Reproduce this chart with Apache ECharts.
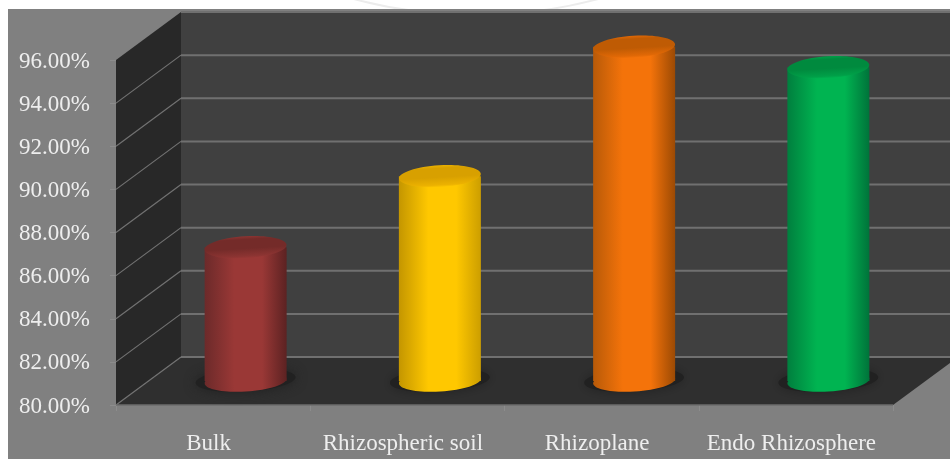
<!DOCTYPE html>
<html>
<head>
<meta charset="utf-8">
<style>
  html, body { margin: 0; padding: 0; background: #fff; overflow: hidden; }
  #ring { position: absolute; left: 1px; top: -934px; width: 946px; height: 946px; border: 2px solid #ececec; border-radius: 50%; }
  #panel { position: absolute; left: 8px; top: 9px; right: 0; bottom: 0; background: #808080; }
  #chart { position: absolute; left: 0; top: 0; width: 950px; height: 459px; }
</style>
<script src="https://cdn.jsdelivr.net/npm/echarts@6/dist/echarts.min.js"></script>
</head>
<body>
<div id="ring"></div>
<div id="panel"></div>
<div id="chart"></div>
<script>
// Share of reads per root compartment, in percent.
const categories = ['Bulk', 'Rhizospheric soil', 'Rhizoplane', 'Endo Rhizosphere'];
const values = [86.2, 89.5, 95.5, 94.55];
const yTicks = [80, 82, 84, 86, 88, 90, 92, 94, 96];

// Cylinder shades: body centre, body edge left, body edge right, top rim, top inner.
const shades = [
  ['#9a3836', '#6c2a2a', '#5c2222', '#8c3432', '#742b29'],
  ['#ffc800', '#c49600', '#cc9e00', '#ecb200', '#d8a000'],
  ['#f4730a', '#b85a08', '#9c4a04', '#e06806', '#bf5b04'],
  ['#00b451', '#007f3e', '#00733a', '#00a048', '#008a3e']
];

// Oblique projection of the chart box, in pixels.
const DEPTH_X = 65;
const DEPTH_Y = -48;
const RADIUS_X = 41;
const RADIUS_Y = 10.5;
const TILT = 0.06;

const chart = echarts.init(document.getElementById('chart'), null, { renderer: 'canvas' });

function polygon(points, fill) {
  return { type: 'polygon', shape: { points }, style: { fill } };
}
function segment(x1, y1, x2, y2, stroke, lineWidth) {
  return { type: 'line', shape: { x1, y1, x2, y2 }, style: { stroke, lineWidth } };
}

// Left wall, back wall, floor and the gridlines folded across the two walls.
function renderBox(params, api) {
  const box = params.coordSys;
  const left = box.x, right = box.x + box.width;
  const yAt = v => api.coord([0, v])[1];
  const floorY = yAt(yTicks[0]);
  const ceilY = yAt(yTicks[yTicks.length - 1]);
  const backL = left + DEPTH_X, backR = right + DEPTH_X;
  const children = [
    polygon([[backL, ceilY + DEPTH_Y], [backR, ceilY + DEPTH_Y], [backR, floorY + DEPTH_Y], [backL, floorY + DEPTH_Y]], '#404040'),
    polygon([[left, ceilY], [backL, ceilY + DEPTH_Y], [backL, floorY + DEPTH_Y], [left, floorY]], '#282828'),
    polygon([[left, floorY], [backL, floorY + DEPTH_Y], [backR, floorY + DEPTH_Y], [right, floorY]], '#2f2f2f')
  ];
  yTicks.forEach(v => {
    const y = yAt(v);
    if (v !== yTicks[yTicks.length - 1]) {
      children.push(segment(left, y, backL, y + DEPTH_Y, '#727272', 1.2));
    }
    children.push(segment(backL, y + DEPTH_Y, backR, y + DEPTH_Y, '#707070', 2));
  });
  children.push(segment(left, floorY, right, floorY, '#6c6c6c', 1.5));
  return { type: 'group', children };
}

function bodyGradient(s) {
  return {
    type: 'linear', x: 0, y: 0, x2: 1, y2: 0,
    colorStops: [
      { offset: 0, color: s[1] },
      { offset: 0.36, color: s[0] },
      { offset: 0.7, color: s[0] },
      { offset: 1, color: s[2] }
    ]
  };
}

// One cylinder standing halfway back on the floor, with its contact shadow.
function renderBar(params, api) {
  const i = api.value(0);
  const s = shades[i];
  const top = api.coord([i, api.value(1)]);
  const base = api.coord([i, yTicks[0]]);
  const cx = top[0] + DEPTH_X / 2;
  const topY = top[1] + DEPTH_Y / 2;
  const baseY = base[1] + DEPTH_Y / 2;
  const body = bodyGradient(s);
  const ellipse = (y, rx, ry, style) => ({
    type: 'ellipse', x: cx, y, rotation: TILT,
    shape: { cx: 0, cy: 0, rx, ry }, style
  });
  return {
    type: 'group',
    children: [
      ellipse(baseY - 1, RADIUS_X + 9, RADIUS_Y + 1, { fill: '#212121', shadowBlur: 12, shadowColor: '#212121' }),
      ellipse(baseY, RADIUS_X, RADIUS_Y, { fill: body }),
      {
        type: 'rect',
        shape: { x: cx - RADIUS_X, y: topY, width: RADIUS_X * 2, height: baseY - topY },
        style: { fill: body }
      },
      ellipse(topY, RADIUS_X, RADIUS_Y + 0.5, {
        fill: {
          type: 'linear', x: 0, y: 0, x2: 0, y2: 1,
          colorStops: [
            { offset: 0, color: s[3] },
            { offset: 0.14, color: s[4] },
            { offset: 0.55, color: s[4] },
            { offset: 0.9, color: s[3] },
            { offset: 1, color: s[0] }
          ]
        }
      })
    ]
  };
}

const axisTextBase = {
  color: '#eeeeee',
  fontFamily: '"Liberation Serif", serif'
};

chart.setOption({
  animation: false,
  grid: { left: 116, top: 60, width: 777, height: 345, containLabel: false },
  xAxis: {
    type: 'category',
    data: categories,
    axisLine: { show: false },
    axisTick: { show: true, interval: 0, length: 6, lineStyle: { color: '#8c8c8c' } },
    axisLabel: { ...axisTextBase, interval: 0, fontSize: 23, margin: 27, padding: [0, 9, 0, 0] }
  },
  yAxis: {
    type: 'value',
    min: yTicks[0],
    max: yTicks[yTicks.length - 1],
    interval: 2,
    axisLine: { show: false },
    axisTick: { show: true, length: 6, lineStyle: { color: '#8c8c8c' } },
    splitLine: { show: false },
    axisLabel: {
      ...axisTextBase,
      fontSize: 23,
      margin: 26,
      verticalAlign: 'bottom',
      padding: [0, 0, -13, 0],
      formatter: v => v.toFixed(2) + '%'
    }
  },
  series: [
    { type: 'custom', name: 'box', renderItem: renderBox, data: [[0, yTicks[0]]], silent: true, z: 1, clip: false },
    {
      type: 'custom',
      name: 'share',
      renderItem: renderBar,
      data: values.map((v, i) => [i, v]),
      encode: { x: 0, y: 1 },
      z: 2,
      clip: false
    }
  ]
});
</script>
</body>
</html>
